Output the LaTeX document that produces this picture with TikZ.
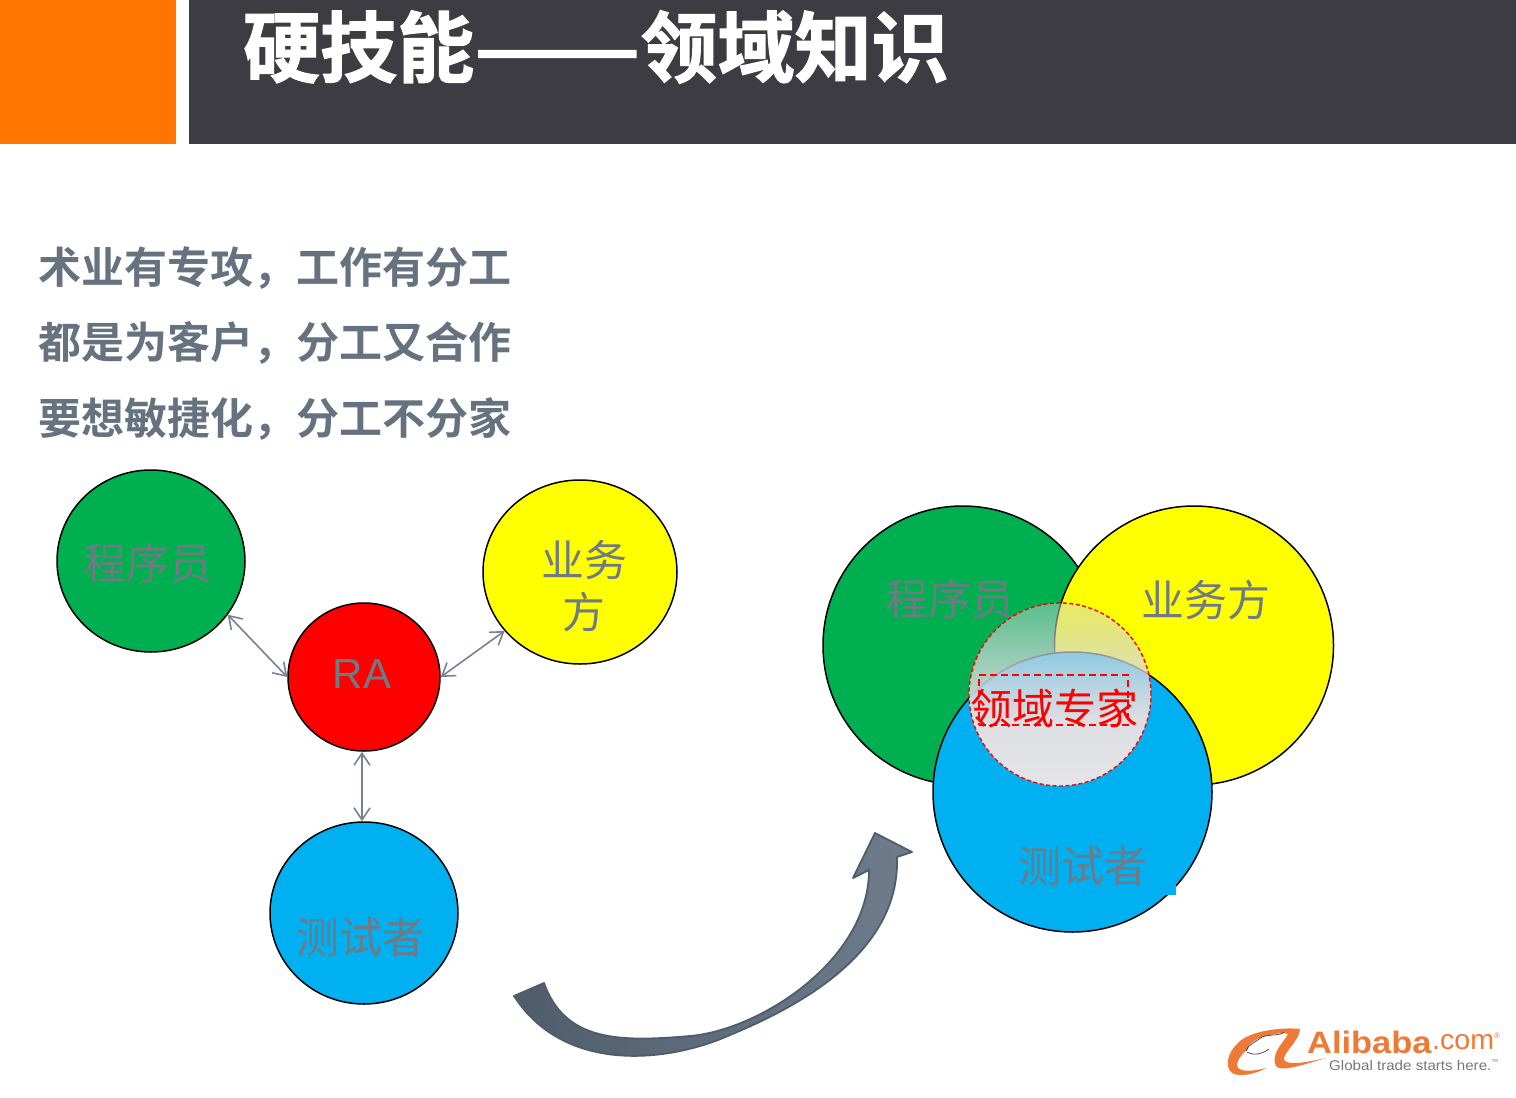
\documentclass[tikz,border=0pt]{standalone}
\usepackage{fontspec}
\setmainfont{Liberation Sans}
\newfontfamily\cjk{Noto Sans CJK SC}
\newfontfamily\cjkb{Noto Sans CJK SC Bold}
\newfontfamily\cjkt[FakeBold=1.6]{Noto Sans CJK SC Bold}
\usetikzlibrary{shapes.geometric,arrows.meta,fadings,shadings}
\definecolor{orng}{HTML}{FF7500}
\definecolor{hdr}{HTML}{3D3C42}
\definecolor{slate}{HTML}{66727F}
\definecolor{lbl}{HTML}{6F7A85}
\definecolor{arr}{HTML}{768294}
\definecolor{grn}{HTML}{00B050}
\definecolor{yel}{HTML}{FFFF00}
\definecolor{blu}{HTML}{00B0F0}
\definecolor{rd}{HTML}{FF0000}
\definecolor{logoO}{HTML}{EE7A35}
\definecolor{logoG}{HTML}{777777}
\definecolor{veil}{HTML}{E4E5E8}
\definecolor{veilT}{HTML}{CDD2D9}
\definecolor{arrL}{HTML}{4F5D6B}
\definecolor{arrR}{HTML}{6E7C8C}
\definecolor{arrE}{HTML}{4E5C6B}
\pgfdeclareverticalshading{dfs}{100bp}{color(0bp)=(white); color(44bp)=(white); color(100bp)=(black)}
\pgfdeclarefading{downfade}{\pgfuseshading{dfs}}
\tikzset{
  disc/.style={ellipse,draw=black,line width=1.5pt,inner sep=0pt},
  lab/.style={font=\cjk\fontsize{43}{50}\selectfont,text=lbl,inner sep=0pt,align=center},
  bodyline/.style={font=\cjkb\fontsize{43}{50}\selectfont,text=slate,inner sep=0pt,anchor=west},
  link/.style={draw=arr,line width=1.6pt,{Straight Barb[length=12pt,width=16pt]}-{Straight Barb[length=12pt,width=16pt]}},
}
\begin{document}
\begin{tikzpicture}[x=1pt,y=-1pt]
\useasboundingbox (0,0) rectangle (1516,1098);
\fill[white] (0,0) rectangle (1516,1098);
\fill[orng] (0,0) rectangle (176,144);
\fill[hdr] (189,0) rectangle (1516,144);
\node[font=\cjkt\fontsize{77}{80}\selectfont,text=white,inner sep=0pt,anchor=west] (title) at (243,47) {硬技能\scalebox{1.27}[1]{——}领域知识};
\node[bodyline] (l1) at (38,268) {术业有专攻\char"FF0C 工作有分工};
\node[bodyline] (l2) at (38,343) {都是为客户\char"FF0C 分工又合作};
\node[bodyline] (l3) at (38,419) {要想敏捷化\char"FF0C 分工不分家};
% left diagram
\node[disc,fill=grn,minimum width=188pt,minimum height=182pt] (g1) at (151,561) {};
\node[disc,fill=yel,minimum width=194pt,minimum height=184pt] (y1) at (580,572) {};
\node[disc,fill=rd,minimum width=152pt,minimum height=148pt] (r1) at (364,677) {};
\node[disc,fill=blu,minimum width=188pt,minimum height=182pt] (b1) at (364,913) {};
\node[lab] (tg1) at (148,563) {程序员};
\node[lab,font=\cjk\fontsize{43}{52}\selectfont] (ty1) at (584,586) {业务\\方};
\node[font=\fontsize{42}{42}\selectfont,text=lbl,inner sep=0pt] (tr1) at (362,674) {RA};
\node[lab] (tb1) at (361,937) {测试者};
\draw[link] (g1.-35.5) -- (r1.west);
\draw[link] (y1.-142.5) -- (r1.east);
\draw[link] ([xshift=-2pt]r1.south) -- ([xshift=-2pt]b1.north);
% right diagram
\node[disc,fill=grn,minimum width=279pt,minimum height=279pt] (g2) at (962.5,645.5) {};
\node[disc,fill=yel,minimum width=279pt,minimum height=279pt] (y2) at (1194,645.5) {};
\node[disc,fill=blu,minimum width=279pt,minimum height=280pt] (b2) at (1072.5,792) {};
\node[lab] (tg2) at (950,599) {程序员};
\node[lab] (ty2) at (1206,600) {业务方};
\node[lab] (tb2) at (1083,866) {测试者};
\fill[blu] (1166,885) rectangle (1176,895);
% expert overlay
\path[path fading=downfade,top color=veilT,bottom color=veil] (1060,694.5) ellipse [x radius=91,y radius=91.5];
\node[ellipse,draw=rd,dash pattern=on 4pt off 2.5pt,line width=1.4pt,minimum width=182pt,minimum height=183pt,inner sep=0pt] (ex) at (1060,694.5) {};
\node[draw=rd,dash pattern=on 7pt off 4pt,line width=1.4pt,minimum width=149pt,minimum height=50pt,inner sep=0pt] (exbox) at (1053.5,700) {};
\node[font=\cjk\fontsize{42}{50}\selectfont,text=rd,inner sep=0pt] (tex) at (1054,708) {领域专家};
% curved arrow
\path[left color=arrL,right color=arrR,draw=arrE,line width=1.8pt,line join=round]
 (514,996) -- (544,983)
 .. controls (565,1042) and (620,1042) .. (690,1036)
 .. controls (760,1030) and (869,960) .. (869,870)
 -- (853,878) -- (875,833) -- (912,852) -- (897,857)
 .. controls (900,945) and (815,1000) .. (730,1035)
 .. controls (670,1062) and (565,1075) .. (514,996)
 -- cycle;
% logo
\fill[logoO] (1300,1029) .. controls (1285,1027) and (1250,1030) .. (1238,1043)
  .. controls (1228,1052) and (1224,1066) .. (1232,1073)
  .. controls (1240,1078) and (1258,1073) .. (1266,1068)
  .. controls (1258,1070) and (1244,1073) .. (1238,1068)
  .. controls (1234,1062) and (1244,1052) .. (1248,1049)
  .. controls (1246,1046) and (1254,1040) .. (1262,1037)
  .. controls (1272,1034) and (1284,1032) .. (1288,1034)
  .. controls (1284,1042) and (1270,1054) .. (1276,1066)
  .. controls (1280,1072) and (1300,1066) .. (1326,1058)
  .. controls (1308,1062) and (1288,1066) .. (1284,1060)
  .. controls (1282,1054) and (1300,1040) .. (1300,1029) -- cycle;
\draw[black!75,line width=0.7pt] (1246,1051) .. controls (1248,1044) and (1256,1042) .. (1262,1037) .. controls (1270,1034) and (1280,1036) .. (1284,1032);
\draw[black!75,line width=0.7pt] (1247,1052) .. controls (1254,1056) and (1262,1054) .. (1269,1049);
\node[font=\bfseries\fontsize{31}{31}\selectfont,text=logoO,inner sep=0pt,anchor=west] (lg1) at (1307,1042) {\scalebox{1.11}[1]{Alibaba}};
\node[font=\fontsize{28}{28}\selectfont,text=logoO,inner sep=0pt,anchor=west] (lg2) at (1432,1042) {\scalebox{1.02}[1]{.com}};
\node[font=\fontsize{8}{8}\selectfont,text=logoO,inner sep=0pt] (lg2r) at (1497,1036) {®};
\node[font=\fontsize{14}{14}\selectfont,text=logoG,inner sep=0pt,anchor=west] (lg3) at (1329,1065) {\scalebox{1.08}[1]{Global trade starts here.}\textsuperscript{\fontsize{7}{7}\selectfont ™}};
\end{tikzpicture}
\end{document}
